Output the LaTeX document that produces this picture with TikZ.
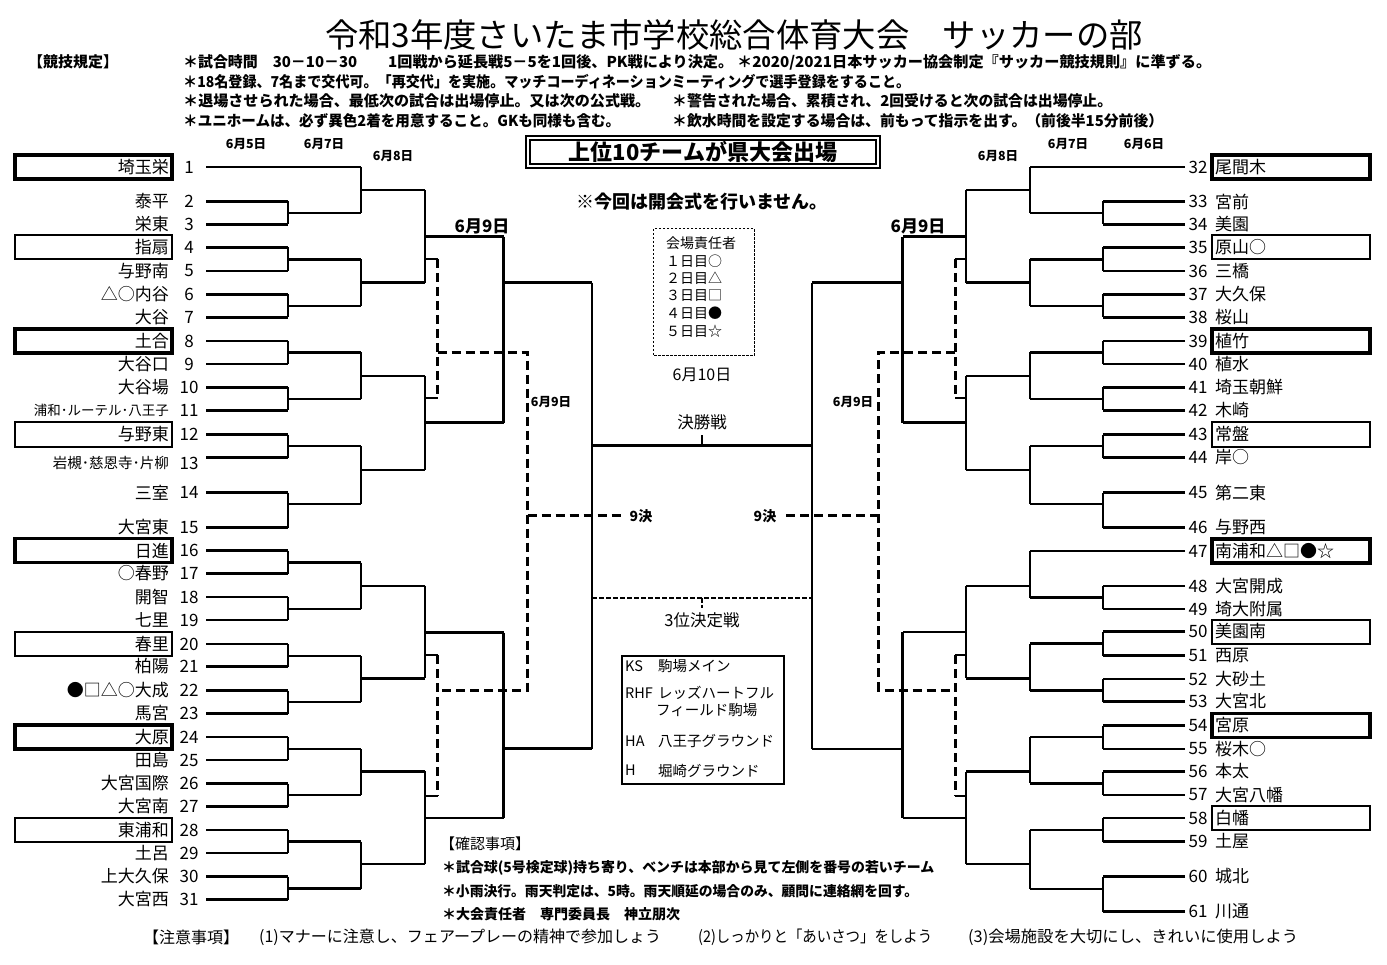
\documentclass[tikz,border=0pt]{standalone}
\usepackage{fontspec}
\setmainfont{Noto Sans CJK JP}
\usepackage{graphicx}
\usetikzlibrary{positioning}
\newcommand{\fitw}[2]{\resizebox{#1pt}{\height}{#2}}
\newcommand{\jn}[5]{\draw[bline] (#1,#2) -- (#1,#3) (#1,#4) -- (#5,#4);}
\tikzset{
  bline/.style={line width=2.4pt},
  dline/.style={line width=3pt, dash pattern=on 9pt off 5pt},
  thickbox/.style={line width=3.6pt},
  thinbox/.style={line width=2pt},
  tname/.style={inner sep=0pt, font=\fontsize{17}{17}\selectfont},
  hd/.style={inner sep=0pt, anchor=west, font=\bfseries\fontsize{15}{15}\selectfont},
  datel/.style={inner sep=0pt, font=\bfseries\fontsize{12.5}{12.5}\selectfont},
  dayl/.style={inner sep=0pt, font=\bfseries\fontsize{17}{17}\selectfont},
  note/.style={inner sep=0pt, anchor=west, font=\fontsize{15}{15}\selectfont},
}
\begin{document}
\begin{tikzpicture}[x=1pt,y=-1pt]
\useasboundingbox (0,0) rectangle (1387,965);

\node[inner sep=0pt, font=\fontsize{33}{33}\selectfont] (title) at (734,35) {\fitw{818}{令和3年度さいたま市学校総合体育大会　サッカーの部}};
\node[hd] (kitei) at (28,62) {【競技規定】};
\node[hd] (r1a) at (183,62) {\fitw{174}{＊試合時間　30－10－30}};
\node[hd] (r1b) at (388,62) {\fitw{345}{1回戦から延長戦5－5を1回後、PK戦により決定。}};
\node[hd] (r1c) at (737,62) {\fitw{474}{＊2020/2021日本サッカー協会制定『サッカー競技規則』に準ずる。}};
\node[hd] (r2) at (183,82) {\fitw{727}{＊18名登録、7名まで交代可。「再交代」を実施。マッチコーディネーションミーティングで選手登録をすること。}};
\node[hd] (r3a) at (183,101) {\fitw{467}{＊退場させられた場合、最低次の試合は出場停止。又は次の公式戦。}};
\node[hd] (r3b) at (672,101) {\fitw{440}{＊警告された場合、累積され、2回受けると次の試合は出場停止。}};
\node[hd] (r4a) at (183,121) {\fitw{437}{＊ユニホームは、必ず異色2着を用意すること。GKも同様も含む。}};
\node[hd] (r4b) at (672,121) {\fitw{491}{＊飲水時間を設定する場合は、前もって指示を出す。（前後半15分前後）}};

\draw[line width=1.6pt] (526,136) rectangle (880,168);
\draw[line width=1.6pt] (530,140) rectangle (876,164);
\node[inner sep=0pt, font=\bfseries\fontsize{22}{22}\selectfont] (ken) at (703,152) {上位10チームが県大会出場};
\node[inner sep=0pt, font=\bfseries\fontsize{18}{18}\selectfont] (kaikai) at (702,202) {※今回は開会式を行いません。};

\foreach \x/\y/\d in {246/144/6月5日, 324/144/6月7日, 393/156/6月8日, 998/156/6月8日, 1068/144/6月7日, 1144/144/6月6日}
  \node[datel] at (\x,\y) {\d};
\node[dayl] (d9l) at (482,226) {6月9日};
\node[dayl] (d9r) at (918,226) {6月9日};
\node[datel] (s9l) at (551,402) {6月9日};
\node[datel] (s9r) at (853,402) {6月9日};

% left teams
\foreach \n/\y/\s in {1/167/埼玉栄, 2/201.5/泰平, 3/224.5/栄東, 4/247.5/指扇, 5/271/与野南, 6/294.5/△○内谷, 7/317.5/大谷, 8/341/土合, 9/364/大谷口, 10/387.5/大谷場, 12/434.5/与野東, 14/492.5/三室, 15/527.5/大宮東, 16/550.5/日進, 17/573.5/○春野, 18/597/開智, 19/620/七里, 20/644/春里, 21/666.5/柏陽, 22/690.5/●□△○大成, 23/713.5/馬宮, 24/737/大原, 25/760/田島, 26/783.5/大宮国際, 27/806.5/大宮南, 28/830/東浦和, 29/853/土呂, 30/876.5/上大久保, 31/899.5/大宮西}{
  \node[tname, anchor=east] (tl\n) at (169,\y) {\s};
  \node[tname] (nl\n) at (189,\y) {\n};
}
\node[inner sep=0pt, anchor=east, font=\fontsize{13.5}{13.5}\selectfont] (tl11) at (169,410.5) {浦和･ルーテル･八王子};
\node[tname] (nl11) at (189,410.5) {11};
\node[inner sep=0pt, anchor=east, font=\fontsize{14.5}{14.5}\selectfont] (tl13) at (169,463) {岩槻･慈恩寺･片柳};
\node[tname] (nl13) at (189,463) {13};

% right teams
\foreach \n/\y/\s in {32/167/尾間木, 33/201.5/宮前, 34/224.5/美園, 35/247.5/原山○, 36/271/三橋, 37/294.5/大久保, 38/317.5/桜山, 39/341/植竹, 40/364/植水, 41/387.5/埼玉朝鮮, 42/410.5/木崎, 43/434.5/常盤, 44/457.5/岸○, 45/492.5/第二東, 46/527.5/与野西, 47/551/南浦和△□●☆, 48/586/大宮開成, 49/609/埼大附属, 50/631.5/美園南, 51/655.5/西原, 52/679/大砂土, 53/701.5/大宮北, 54/725.5/宮原, 55/749/桜木○, 56/771.5/本太, 57/795/大宮八幡, 58/818/白幡, 59/841.5/土屋, 60/876.5/城北, 61/911.5/川通}{
  \node[tname, anchor=west] (tr\n) at (1215,\y) {\s};
  \node[tname] (nr\n) at (1198,\y) {\n};
}

% boxes
\foreach \y in {167,341,550.5,737} \draw[thickbox] (15,\y-12) rectangle (172,\y+12);
\foreach \y in {247.5,434.5,644,830} \draw[thinbox] (15,\y-12) rectangle (172,\y+12);
\foreach \y in {167,341,551,725.5} \draw[thickbox] (1212,\y-12) rectangle (1370,\y+12);
\foreach \y in {247.5,434.5,631.5,818} \draw[thinbox] (1212,\y-12) rectangle (1370,\y+12);

% team lines
\draw[bline] (206,167) -- (361,167);
\foreach \y in {201.5,224.5,247.5,271,294.5,317.5,341,364,387.5,410.5,434.5,457.5,492.5,527.5,550.5,573.5,597,620,644,666.5,690.5,713.5,737,760,783.5,806.5,830,853,876.5,899.5}
  \draw[bline] (206,\y) -- (288,\y);
\draw[bline] (1185,167) -- (1030,167);
\draw[bline] (1185,551) -- (1030,551);
\foreach \y in {201.5,224.5,247.5,271,294.5,317.5,341,364,387.5,410.5,434.5,457.5,492.5,527.5,586,609,631.5,655.5,679,701.5,725.5,749,771.5,795,818,841.5,876.5,911.5}
  \draw[bline] (1185,\y) -- (1103,\y);

% left rounds
\foreach \a/\b/\o in {201.5/224.5/213, 247.5/271/259.5, 294.5/317.5/306, 341/364/352.5, 387.5/410.5/399, 434.5/457.5/446, 492.5/527.5/504, 550.5/573.5/562.5, 597/620/609, 644/666.5/656, 690.5/713.5/702, 737/760/749, 783.5/806.5/795, 830/853/841.5, 876.5/899.5/888.5}
  {\jn{288}{\a}{\b}{\o}{361}}
\foreach \a/\b/\o in {167/213/190, 259.5/306/282.7, 352.5/399/376, 446/504/470, 562.5/609/585.7, 656/702/678.3, 749/795/771.3, 841.5/888.5/864}
  {\jn{361}{\a}{\b}{\o}{425}}
\foreach \a/\b/\o in {190/282.7/236.7, 376/470/422.7, 585.7/678.3/632.5, 771.3/864/818}
  {\jn{425}{\a}{\b}{\o}{503.5}}
\jn{503.5}{236.7}{422.7}{282.7}{592}
\jn{503.5}{632.5}{818}{748.5}{592}

% right rounds
\foreach \a/\b/\o in {201.5/224.5/213, 247.5/271/259.5, 294.5/317.5/306, 341/364/352.5, 387.5/410.5/399, 434.5/457.5/446, 492.5/527.5/504, 586/609/597.5, 631.5/655.5/643.5, 679/701.5/690.5, 725.5/749/737, 771.5/795/783.3, 818/841.5/830, 876.5/911.5/889}
  {\jn{1103}{\a}{\b}{\o}{1030}}
\foreach \a/\b/\o in {167/213/190, 259.5/306/282.7, 352.5/399/376, 446/504/470, 551/597.5/585.7, 643.5/690.5/678.3, 737/783.3/771.5, 830/889/864}
  {\jn{1030}{\a}{\b}{\o}{966}}
\foreach \a/\b/\o in {190/282.7/236.7, 376/470/422.7, 585.7/678.3/632, 771.5/864/818}
  {\jn{966}{\a}{\b}{\o}{902.5}}
\jn{902.5}{236.7}{422.7}{282.7}{812}
\jn{902.5}{632}{818}{749}{812}

% final and third place
\draw[bline] (592,282.7) -- (592,748.5) (812,282.7) -- (812,749);
\coordinate (ftop) at (702,435);
\draw[bline] (592,445.5) -- (812,445.5) (ftop) -- (702,445.5);
\node[inner sep=0pt, font=\fontsize{16.5}{16.5}\selectfont, above=5pt of ftop] (kessho) {決勝戦};
\node[inner sep=0pt, font=\fontsize{16}{16}\selectfont] (d10) at (702,375) {6月10日};
\coordinate (tbot) at (702,608);
\draw[line width=1.8pt, dash pattern=on 5pt off 2pt] (592,597.7) -- (812,597.7) (702,597.7) -- (tbot);
\node[inner sep=0pt, font=\fontsize{16.5}{16.5}\selectfont, below=4pt of tbot] (sani) {3位決定戦};

% 9th place
\draw[bline] (425,259) -- (437.5,259) (425,398.3) -- (437.5,398.3) (425,655) -- (437.5,655) (425,795.7) -- (437.5,795.7);
\draw[dline] (437.5,259) -- (437.5,398.3) (437.5,655) -- (437.5,795.7);
\draw[dline] (437.5,352.7) -- (527.5,352.7) -- (527.5,690) -- (437.5,690);
\draw[dline] (527.5,515.7) -- (622,515.7);
\draw[bline] (966,259) -- (955,259) (966,398.3) -- (955,398.3) (966,655) -- (955,655) (966,795.7) -- (955,795.7);
\draw[dline] (955,259) -- (955,398.3) (955,655) -- (955,795.7);
\draw[dline] (955,352.7) -- (878.5,352.7) -- (878.5,690) -- (955,690);
\draw[dline] (878.5,515.7) -- (785,515.7);
\node[datel, font=\bfseries\fontsize{14}{14}\selectfont] (k9l) at (641,516) {9決};
\node[datel, font=\bfseries\fontsize{14}{14}\selectfont] (k9r) at (765,516) {9決};

% venue managers
\draw[line width=1pt, dash pattern=on 2.5pt off 1.5pt] (653,229) rectangle (754,356);
\foreach \y/\s in {243/会場責任者, 261/１日目○, 278.5/２日目△, 296/３日目□, 313.5/４日目●, 331.5/５日目☆}
  \node[inner sep=0pt, anchor=west, font=\fontsize{14}{14}\selectfont] at (666,\y) {\s};

% venues
\draw[line width=2pt] (622,655.5) rectangle (784,784);
\foreach \y/\c/\s in {666.5/KS/駒場メイン, 693/RHF/レッズハートフル, 741.5/HA/八王子グラウンド, 770.5/H/堀崎グラウンド}{
  \node[inner sep=0pt, anchor=west, font=\fontsize{14.5}{14.5}\selectfont] at (625,\y) {\c};
  \node[inner sep=0pt, anchor=west, font=\fontsize{14.5}{14.5}\selectfont] at (658,\y) {\s};
}
\node[inner sep=0pt, anchor=west, font=\fontsize{14.5}{14.5}\selectfont] at (656,710.5) {フィールド駒場};

% notes
\node[note] (kakunin) at (440,844) {【確認事項】};
\node[hd, font=\bfseries\fontsize{14}{14}\selectfont] (k1) at (442,868) {\fitw{492}{＊試合球(5号検定球)持ち寄り、ベンチは本部から見て左側を番号の若いチーム}};
\node[hd, font=\bfseries\fontsize{14}{14}\selectfont] (k2) at (442,891) {\fitw{476}{＊小雨決行。雨天判定は、5時。雨天順延の場合のみ、顧問に連絡網を回す。}};
\node[hd, font=\bfseries\fontsize{14}{14}\selectfont] (k3) at (442,914) {\fitw{238}{＊大会責任者　専門委員長　神立朋次}};
\node[note, font=\fontsize{16}{16}\selectfont] (chui) at (143,937) {【注意事項】};
\node[note, font=\fontsize{16}{16}\selectfont] (c1) at (259,937) {\fitw{402}{(1)マナーに注意し、フェアープレーの精神で参加しょう}};
\node[note, font=\fontsize{16}{16}\selectfont] (c2) at (698,937) {\fitw{234}{(2)しっかりと「あいさつ」をしよう}};
\node[note, font=\fontsize{16}{16}\selectfont] (c3) at (968,937) {\fitw{330}{(3)会場施設を大切にし、きれいに使用しよう}};
\end{tikzpicture}
\end{document}
